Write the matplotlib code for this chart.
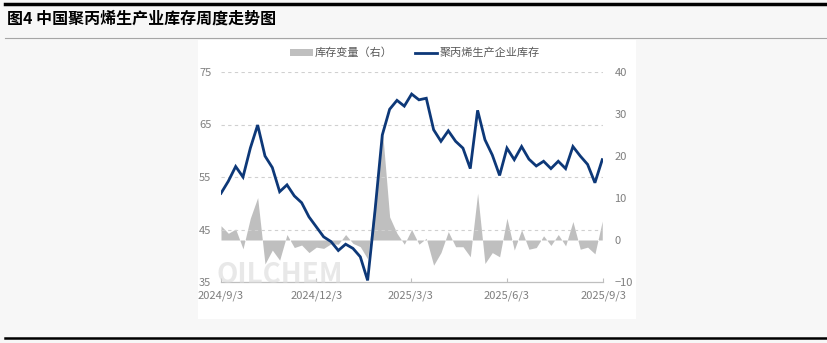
import matplotlib
matplotlib.use("Agg")
import matplotlib.pyplot as plt
from matplotlib.patches import Rectangle, Patch
from matplotlib.lines import Line2D
import pandas as pd

plt.rcParams['font.family'] = ['Noto Sans CJK SC', 'DejaVu Sans']

title = "图4 中国聚丙烯生产业库存周度走势图"
line_name = "聚丙烯生产企业库存"
area_name = "库存变量（右）"

start_date = "2024-09-03"
n_weeks = 53

inventory = [51.9, 54.2, 57.0, 55.0, 60.5, 64.9, 59.0, 56.8, 52.2, 53.5,
             51.4, 50.1, 47.4, 45.5, 43.6, 42.7, 41.0, 42.2, 41.4, 39.8,
             35.3, 48.5, 63.0, 67.9, 69.6, 68.5, 70.8, 69.7, 70.0, 64.0,
             61.8, 63.8, 61.8, 60.5, 56.6, 67.7, 62.1, 59.2, 55.3, 60.5,
             58.3, 60.8, 58.4, 57.1, 58.0, 56.6, 58.0, 56.6, 60.8, 59.0,
             57.4, 53.9, 58.3]

change = [3.4, 1.6, 2.6, -2.1, 5.2, 10.1, -5.7, -2.4, -4.8, 1.3,
          -1.8, -1.2, -3.0, -1.7, -2.0, -0.9, -1.0, 1.3, -0.8, -1.6,
          -4.5, 10.0, 26.5, 5.5, 1.6, -1.0, 2.5, -1.0, 0.4, -6.0,
          -3.0, 2.0, -1.6, -1.6, -4.0, 11.1, -5.6, -3.0, -4.0, 5.2,
          -2.4, 2.4, -2.2, -1.8, 1.0, -1.3, 1.3, -1.4, 4.4, -2.2,
          -1.7, -3.3, 4.5]

left_ticks = [35, 45, 55, 65, 75]
right_ticks = [-10, 0, 10, 20, 30, 40]
x_tick_dates = ["2024-09-03", "2024-12-03", "2025-03-03", "2025-06-03", "2025-09-03"]
x_tick_labels = ["2024/9/3", "2024/12/3", "2025/3/3", "2025/6/3", "2025/9/3"]

dates = pd.date_range(start_date, periods=n_weeks, freq="7D")

W, H = 827, 343
fig = plt.figure(figsize=(W / 100, H / 100), dpi=100)
fig.patch.set_facecolor("#f7f7f7")

# decorations: top bar, separator, bottom bar, white panel
fig.add_artist(Line2D([5 / W, 1], [1 - 3.5 / H] * 2, color="black", lw=2.5))
fig.add_artist(Line2D([5 / W, 1], [1 - 37.5 / H] * 2, color="#a6a6a6", lw=0.8))
fig.add_artist(Line2D([5 / W, 1], [1 - 337.5 / H] * 2, color="black", lw=1.8))
fig.add_artist(Rectangle((198 / W, 1 - 319 / H), (636 - 198) / W, (319 - 40) / H,
                         facecolor="white", edgecolor="none", zorder=0))
fig.text(7 / W, 1 - 19 / H, title, fontsize=11.5, fontweight="bold",
         va="center", ha="left", color="black")

ax = fig.add_axes([221 / W, 1 - 282 / H, (603.3 - 221) / W, (282 - 72) / H])
ax2 = ax.twinx()
ax.set_zorder(ax2.get_zorder() + 1)
ax.patch.set_visible(False)

ax2.fill_between(dates, change, 0, color="#bfbfbf", lw=0)
ax.plot(dates, inventory, color="#0d3878", lw=2.0, solid_joinstyle="miter")

ax.set_ylim(35, 75)
ax2.set_ylim(-10, 40)
ax.set_xlim(pd.Timestamp(x_tick_dates[0]), pd.Timestamp(x_tick_dates[-1]))

ax.set_yticks(left_ticks)
ax2.set_yticks(right_ticks)
ax.set_xticks(pd.to_datetime(x_tick_dates))
ax.set_xticklabels(x_tick_labels)

for a in (ax, ax2):
    for s in a.spines.values():
        s.set_visible(False)
ax.spines["bottom"].set_visible(True)
ax.spines["bottom"].set_color("#bfbfbf")
ax.spines["bottom"].set_linewidth(0.9)

for v in left_ticks[1:]:
    ax.axhline(v, color="#d0d0d0", lw=0.8, ls=(0, (3, 3)), zorder=0)

ax.tick_params(axis="y", length=0, pad=7, labelsize=8, labelcolor="#7f7f7f")
ax2.tick_params(axis="y", length=0, pad=8, labelsize=8, labelcolor="#7f7f7f")
ax.tick_params(axis="x", direction="in", length=3, color="#bfbfbf", pad=6,
               labelsize=8, labelcolor="#7f7f7f")

# watermark
fig.text(216 / W, 1 - 275 / H, "OILCHEM", fontsize=20, color="#d9d9d9",
         alpha=0.6, ha="left", va="center", fontweight="bold", zorder=1)

handles = [Patch(facecolor="#bfbfbf", edgecolor="none"),
           Line2D([], [], color="#0d3878", lw=2.0)]
fig.legend(handles, [area_name, line_name], loc="center",
           bbox_to_anchor=(415 / W, 1 - 53 / H), ncol=2, frameon=False,
           fontsize=8, labelcolor="#595959", handlelength=2.0,
           handletextpad=0.2, columnspacing=2.0, handleheight=0.6)

fig.savefig("out.png", dpi=100, facecolor=fig.get_facecolor())
